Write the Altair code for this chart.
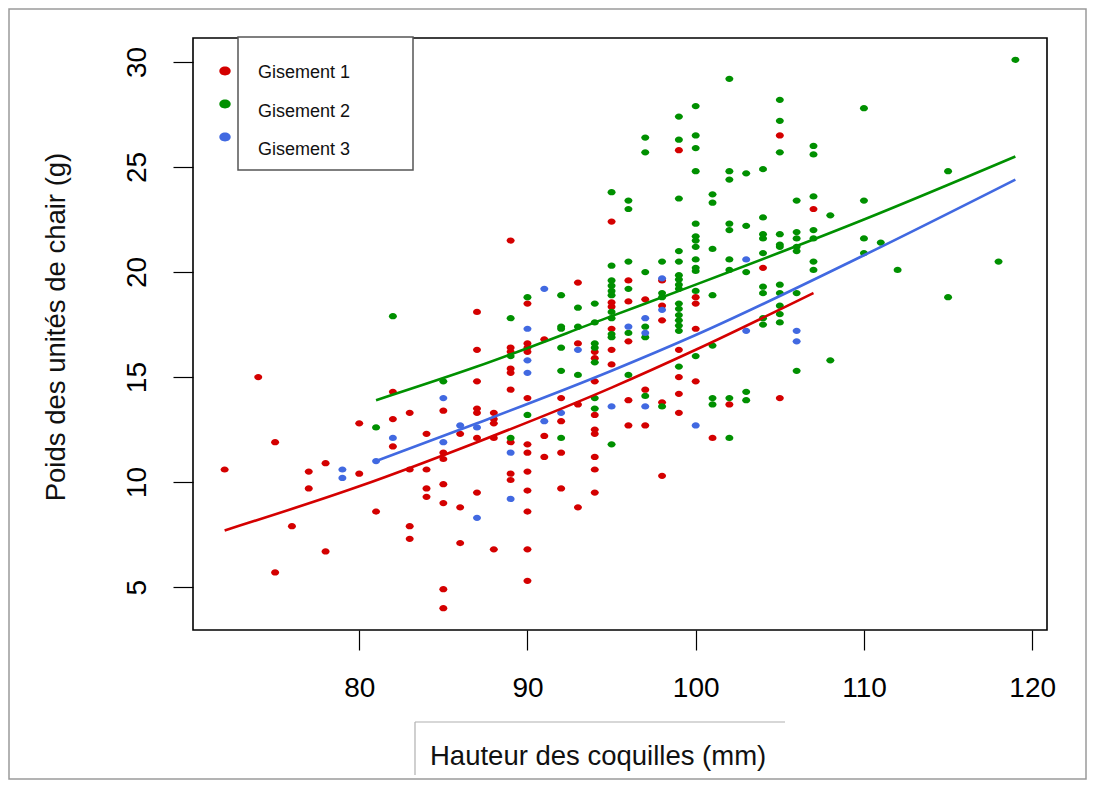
import altair as alt
import pandas as pd

# ---------------- data ----------------
g1_x = [72, 74, 75, 75, 76, 77, 77, 78, 78, 80, 80, 81, 82, 82, 82, 83, 83, 83, 83,
        84, 84, 84, 84, 85, 85, 85, 85, 85, 85, 85, 86, 86, 86,
        87, 87, 87, 87, 87, 87, 87, 88, 88, 88, 88, 88,
        89, 89, 89, 89, 89, 89, 89, 89, 89,
        90, 90, 90, 90, 90, 90, 90, 90, 90, 90, 90, 90,
        91, 91, 91, 92, 92, 92, 92, 93, 93, 93, 93,
        94, 94, 94, 94, 94, 94, 94, 94, 94,
        95, 95, 95, 95, 95, 95, 96, 96, 96, 96, 96, 97, 97, 97,
        98, 98, 98, 98, 98, 99, 99, 99, 99, 99, 100, 100, 100, 100,
        101, 102, 104, 105, 105, 107]
g1_y = [10.6, 15.0, 11.9, 5.7, 7.9, 10.5, 9.7, 10.9, 6.7, 12.8, 10.4, 8.6, 14.3, 13.0, 11.7,
        13.3, 10.6, 7.9, 7.3,
        12.3, 10.6, 9.7, 9.3, 13.4, 11.4, 11.1, 9.9, 9.0, 4.9, 4.0, 12.3, 8.8, 7.1,
        18.1, 16.3, 14.8, 13.5, 13.3, 12.1, 9.5, 13.3, 13.0, 12.8, 12.1, 6.8,
        21.5, 16.4, 16.2, 15.4, 15.2, 14.4, 11.9, 10.4, 10.1,
        18.5, 16.6, 16.4, 16.2, 14.0, 11.8, 11.4, 10.5, 9.6, 8.6, 6.8, 5.3,
        16.8, 12.2, 11.2, 14.0, 12.9, 11.4, 9.7, 19.5, 16.6, 13.7, 8.8,
        16.2, 15.9, 14.8, 13.2, 12.5, 12.3, 11.2, 10.6, 9.5,
        22.4, 18.55, 18.35, 17.3, 16.3, 15.6, 19.6, 18.6, 16.7, 13.9, 12.7, 18.7, 14.4, 12.7,
        19.6, 18.4, 17.7, 13.8, 10.3, 25.8, 16.3, 15.0, 14.2, 13.3, 18.8, 18.5, 17.3, 14.8,
        12.1, 13.7, 20.2, 26.5, 14.0, 23.0]

g2_x = [81, 82, 85, 89, 89, 89, 90, 90,
        92, 92, 92, 92, 92, 92, 93, 93, 93,
        94, 94, 94, 94, 94, 94, 94,
        95, 95, 95, 95, 95, 95, 95, 95, 95, 95, 95,
        96, 96, 96, 96, 96, 96, 97, 97, 97, 97, 97, 97, 98, 98, 98, 98,
        99, 99, 99, 99, 99, 99, 99, 99, 99, 99, 99, 99, 99, 99, 99, 99,
        100, 100, 100, 100, 100, 100, 100, 100, 100, 100, 100, 100, 100,
        101, 101, 101, 101, 101, 101, 101,
        102, 102, 102, 102, 102, 102, 102, 102, 102,
        103, 103, 103, 103, 103,
        104, 104, 104, 104, 104, 104, 104, 104, 104,
        105, 105, 105, 105, 105, 105, 105, 105, 105, 105, 105,
        106, 106, 106, 106, 106, 106, 106,
        107, 107, 107, 107, 107, 107, 107,
        108, 108, 110, 110, 110, 110, 111, 112, 115, 115, 118, 119]
g2_y = [12.6, 17.9, 14.8, 17.8, 16.0, 12.1, 18.8, 13.2,
        18.9, 17.4, 17.3, 16.4, 15.3, 12.1, 18.3, 17.4, 15.1,
        18.5, 17.6, 16.6, 16.4, 15.7, 14.0, 13.5,
        23.8, 20.3, 19.6, 19.35, 19.1, 18.9, 18.1, 17.8, 17.05, 16.9, 11.8,
        23.4, 23.0, 20.5, 19.2, 17.1, 15.1, 26.4, 25.7, 20.0, 17.4, 16.9, 14.1, 20.5, 19.0, 18.8, 13.6,
        27.4, 26.3, 23.5, 21.0, 20.5, 19.85, 19.65, 19.4, 19.2, 18.5, 18.25, 17.95, 17.7, 17.45, 17.2, 15.5,
        27.9, 26.5, 25.9, 24.8, 22.3, 21.7, 21.5, 21.2, 20.6, 20.2, 20.05, 19.1, 16.0,
        23.7, 23.3, 21.1, 18.9, 16.5, 14.0, 13.7,
        29.2, 24.8, 24.4, 22.3, 22.0, 20.6, 20.1, 14.0, 12.1,
        24.7, 22.2, 20.0, 14.3, 13.9,
        24.9, 22.6, 21.8, 21.6, 20.9, 19.3, 19.0, 17.8, 17.5,
        28.2, 27.2, 25.7, 21.8, 21.3, 21.2, 19.4, 19.0, 18.4, 18.0, 17.6,
        23.4, 21.9, 21.6, 21.2, 21.0, 19.0, 15.3,
        26.0, 25.6, 23.6, 22.0, 21.6, 20.5, 20.1,
        22.7, 15.8, 27.8, 23.4, 21.6, 20.9, 21.4, 20.1, 24.8, 18.8, 20.5, 30.1]

g3_x = [79, 79, 81, 82, 85, 85, 86, 87, 87, 89, 89, 90, 90, 90, 91, 91, 92, 93,
        95, 96, 97, 97, 97, 98, 98, 100, 103, 103, 106, 106]
g3_y = [10.6, 10.2, 11.0, 12.1, 14.0, 11.9, 12.7, 12.6, 8.3, 11.4, 9.2, 17.3, 15.8, 15.2,
        19.2, 12.9, 13.3, 16.3, 13.6, 17.4, 17.8, 17.1, 13.6, 19.7, 18.2, 12.7,
        20.6, 17.2, 17.2, 16.7]

# fitted curves, values
c1_x = [72, 80, 87, 95, 100, 107]
c1_y = [7.7, 9.8, 11.9, 14.5, 16.3, 19.0]
c2_x = [81, 87, 95, 100, 110, 119]
c2_y = [13.9, 15.5, 17.9, 19.4, 22.5, 25.5]
c3_x = [81, 87, 95, 100, 110, 119]
c3_y = [11.0, 12.8, 15.3, 17.0, 20.8, 24.4]

groups = ["Gisement 1", "Gisement 2", "Gisement 3"]
colors = ["#D40000", "#009000", "#4169E1"]
x_ticks = [80, 90, 100, 110, 120]
y_ticks = [5, 10, 15, 20, 25, 30]
x_title = "Hauteur des coquilles (mm)"
y_title = "Poids des unités de chair (g)"

FONT = "Liberation Sans"
OVAL = "M-1,0 A1,0.78 0 1,0 1,0 A1,0.78 0 1,0 -1,0 Z"

pts = pd.DataFrame({
    "x": g1_x + g2_x + g3_x,
    "y": g1_y + g2_y + g3_y,
    "g": [groups[0]] * len(g1_x) + [groups[1]] * len(g2_x) + [groups[2]] * len(g3_x),
    "o": [0] * len(g1_x) + [1] * len(g2_x) + [2] * len(g3_x),
})
curves = pd.DataFrame({
    "x": c1_x + c2_x + c3_x,
    "y": c1_y + c2_y + c3_y,
    "g": [groups[0]] * len(c1_x) + [groups[1]] * len(c2_x) + [groups[2]] * len(c3_x),
})

xs = alt.Scale(domain=[70.12, 120.88], nice=False, zero=False)
ys = alt.Scale(domain=[2.96, 31.14], nice=False, zero=False)
cs = alt.Scale(domain=groups, range=colors)

x_axis = alt.Axis(values=x_ticks, title=None, grid=False, domain=False, tickSize=20,
                  tickColor="black", tickWidth=1.2, labelFontSize=28, labelFont=FONT,
                  labelColor="black", labelPadding=24, labelFlush=False)
y_axis = alt.Axis(values=y_ticks, title=None, grid=False, domain=False, tickSize=20,
                  tickColor="black", tickWidth=1.2, labelFontSize=28, labelFont=FONT,
                  labelColor="black", labelPadding=22, labelAngle=270,
                  labelAlign="center", labelBaseline="bottom", labelFlush=False)

points = alt.Chart(pts).mark_point(shape=OVAL, filled=True, size=64, opacity=1,
                                   strokeWidth=0).encode(
    x=alt.X("x:Q", scale=xs, axis=x_axis),
    y=alt.Y("y:Q", scale=ys, axis=y_axis),
    color=alt.Color("g:N", scale=cs, legend=None),
    order="o:Q",
)
lines = alt.Chart(curves).mark_line(strokeWidth=2.6, interpolate="monotone").encode(
    x=alt.X("x:Q", scale=xs),
    y=alt.Y("y:Q", scale=ys),
    color=alt.Color("g:N", scale=cs, legend=None),
    detail="g:N",
)

one = alt.Data(values=[{"k": 1}])
frame = alt.Chart(one).mark_rect(fill=None, stroke="#9a9a9a", strokeWidth=1.5).encode(
    x=alt.value(-184), x2=alt.value(893), y=alt.value(-29), y2=alt.value(741))
title_line_h = alt.Chart(one).mark_rule(color="#b0b0b0", strokeWidth=1.2).encode(
    x=alt.value(222), x2=alt.value(592), y=alt.value(684))
title_line_v = alt.Chart(one).mark_rule(color="#b0b0b0", strokeWidth=1.2).encode(
    x=alt.value(222), y=alt.value(684), y2=alt.value(737))
xt = alt.Chart(alt.Data(values=[{"t": x_title}])).mark_text(
    font=FONT, fontSize=27.5, align="left", baseline="middle", color="#111").encode(
    x=alt.value(237), y=alt.value(719), text="t:N")
yt = alt.Chart(alt.Data(values=[{"t": y_title}])).mark_text(
    font=FONT, fontSize=27.5, align="center", baseline="middle", angle=270, color="#111").encode(
    x=alt.value(-136), y=alt.value(289), text="t:N")

legend_box = alt.Chart(one).mark_rect(fill="white", stroke="#555", strokeWidth=1.5).encode(
    x=alt.value(45), x2=alt.value(220), y=alt.value(-1), y2=alt.value(132))
legend_layers = []
dot_y = [33, 66, 99]
lab_y = [35, 74, 112]
for i, gname in enumerate(groups):
    d = alt.Data(values=[{"g": gname}])
    legend_layers.append(alt.Chart(d).mark_point(
        shape=OVAL, filled=True, size=130, opacity=1, strokeWidth=0, color=colors[i]).encode(
        x=alt.value(32), y=alt.value(dot_y[i])))
    legend_layers.append(alt.Chart(d).mark_text(
        font=FONT, fontSize=18, align="left", baseline="middle", color="#111").encode(
        x=alt.value(65), y=alt.value(lab_y[i]), text="g:N"))

chart = alt.layer(frame, title_line_h, title_line_v, xt, yt, points, lines,
                  legend_box, *legend_layers).properties(
    width=854, height=592,
    padding={"left": 185, "top": 30, "right": 40, "bottom": 150},
    autosize=alt.AutoSizeParams(type="none"),
    background="white",
).configure_view(stroke="black", strokeWidth=1.6)

chart.save("out.html", embed_options={"renderer": "svg", "actions": False})
